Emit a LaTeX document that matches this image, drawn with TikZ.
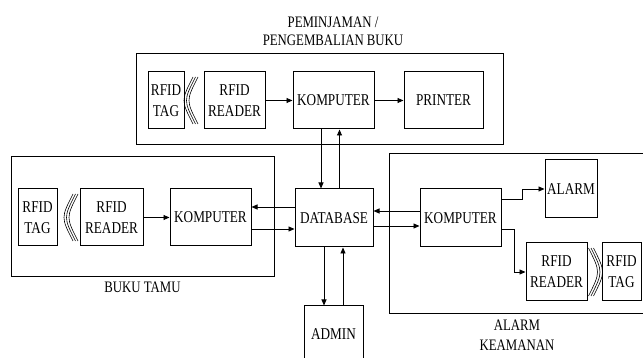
\documentclass[tikz,border=0pt]{standalone}
\usepackage{fontspec}
\setmainfont{Liberation Serif}[FakeStretch=0.8]
\usetikzlibrary{arrows.meta}
\begin{document}
\begin{tikzpicture}[x=1pt,y=-1pt,
  box/.style={draw, line width=1pt, inner sep=0pt, align=center, font=\fontsize{16.5}{21}\selectfont},
  grp/.style={draw, line width=0.9pt},
  lbl/.style={inner sep=0pt, align=center},
  arr/.style={line width=0.9pt, -{Triangle[length=6pt,width=5pt]}},
  wave/.style={line width=0.6pt}]
\useasboundingbox (0,0) rectangle (643,358);

% group frames
\draw[grp] (136,53) rectangle (503,144);
\draw[grp] (11,156) rectangle (274,276);
\draw[grp] (389,153) rectangle (646,313);

% labels
\node[lbl, font=\fontsize{16}{18.3}\selectfont] (titleT) at (333,31) {PEMINJAMAN /\\PENGEMBALIAN BUKU};
\node[lbl, font=\fontsize{16}{19}\selectfont, anchor=base] (titleL) at (142.5,293) {BUKU TAMU};
\node[lbl, font=\fontsize{16}{20}\selectfont] (titleR) at (517,335) {ALARM\\KEAMANAN};

% top group
\node[box, minimum width=36, minimum height=57] (tagT) at (166,100.5) {RFID\\TAG};
\node[box, minimum width=61, minimum height=57] (readerT) at (234.5,100.5) {RFID\\READER};
\node[box, minimum width=81, minimum height=57] (kompT) at (333.5,100.5) {KOMPUTER};
\node[box, minimum width=79, minimum height=57] (printer) at (443.5,100.5) {PRINTER};

% left group
\node[box, minimum width=39, minimum height=57] (tagL) at (37.5,217.5) {RFID\\TAG};
\node[box, minimum width=63, minimum height=57] (readerL) at (111.5,217.5) {RFID\\READER};
\node[box, minimum width=81, minimum height=57] (kompL) at (210.5,217.5) {KOMPUTER};

% centre
\node[box, minimum width=78, minimum height=58] (database) at (334,218) {DATABASE};
\node[box, minimum width=59, minimum height=57] (admin) at (333.5,334.5) {ADMIN};

% right group
\node[box, minimum width=81, minimum height=58] (kompR) at (460.5,218) {KOMPUTER};
\node[box, minimum width=52, minimum height=58] (alarm) at (571,189) {ALARM};
\node[box, minimum width=61, minimum height=58] (readerR) at (556.5,272) {RFID\\READER};
\node[box, minimum width=39, minimum height=58] (tagR) at (621.5,272) {RFID\\TAG};

% radio waves
\foreach \d in {0,2.5,5} {
  \draw[wave] (193+\d,77) .. controls (181+\d,100.5) .. (193+\d,124);
  \draw[wave] (73+\d,194) .. controls (61+\d,217.5) .. (73+\d,241);
  \draw[wave] (588.5+\d,248) .. controls (600.5+\d,272) .. (588.5+\d,296);
}

% helper coordinates
\coordinate (vA) at (321,0);
\coordinate (vB) at (339.5,0);
\coordinate (vC) at (324,0);
\coordinate (vD) at (343,0);
\coordinate (hA) at (0,207);
\coordinate (hB) at (0,229);
\coordinate (hC) at (0,211);
\coordinate (hD) at (0,226);
\coordinate (hE) at (0,199);
\coordinate (hF) at (0,229);
\coordinate (jA) at (522,0);
\coordinate (jB) at (514,0);

% connectors
\draw[arr] (readerT) -- (kompT);
\draw[arr] (kompT) -- (printer);
\draw[arr] (kompT.south -| vA) -- (database.north -| vA);
\draw[arr] (database.north -| vB) -- (kompT.south -| vB);
\draw[arr] (readerL) -- (kompL);
\draw[arr] (database.west |- hA) -- (kompL.east |- hA);
\draw[arr] (kompL.east |- hB) -- (database.west |- hB);
\draw[arr] (kompR.west |- hC) -- (database.east |- hC);
\draw[arr] (database.east |- hD) -- (kompR.west |- hD);
\draw[arr] (database.south -| vC) -- (admin.north -| vC);
\draw[arr] (admin.north -| vD) -- (database.south -| vD);
\draw[arr] (kompR.east |- hE) -| (jA |- alarm.west) -- (alarm.west);
\draw[arr] (kompR.east |- hF) -| (jB |- readerR.west) -- (readerR.west);
\end{tikzpicture}
\end{document}
